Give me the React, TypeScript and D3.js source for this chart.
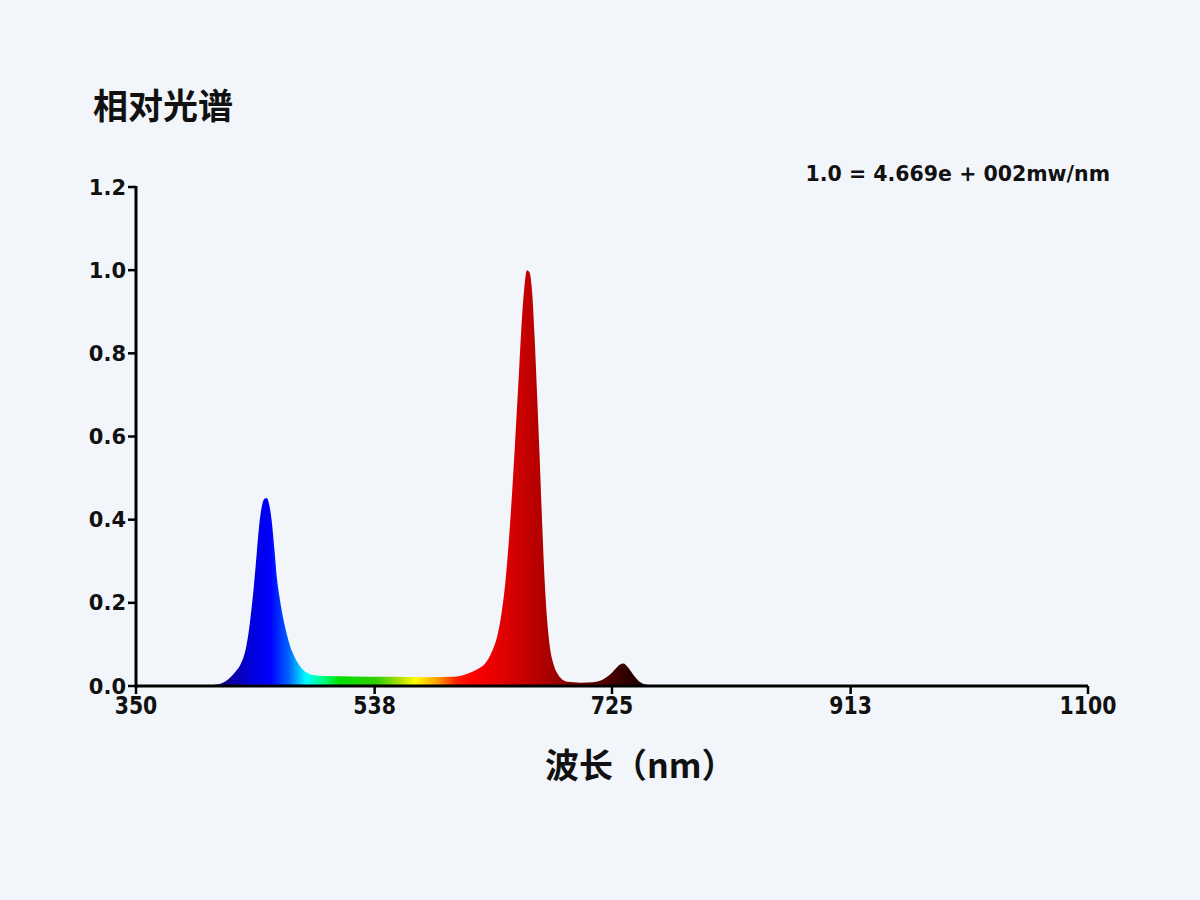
import React from "react";
import * as d3 from "d3";

const title = "相对光谱";
const xTitle = "波长（nm）";
const note = "1.0 = 4.669e + 002mw/nm";
const xTicks = [350, 538, 725, 913, 1100];
const yTicks = [0, 0.2, 0.4, 0.6, 0.8, 1.0, 1.2];

const wavelengths = [
  350, 400, 405, 410, 415, 420, 424, 428, 432, 435, 437, 439, 441, 443, 445, 447, 449, 451, 453, 455,
  457, 459, 461, 463, 465, 467, 469, 471, 474, 477, 481, 485, 490, 500, 520, 550, 580, 600, 605, 610,
  615, 620, 625, 630, 635, 638, 641, 644, 647, 650, 652, 654, 656, 658, 660, 662, 664, 666, 668,
  670, 672, 674, 676, 679, 682, 685, 690, 700, 710, 715, 720, 725, 728, 731, 734, 737, 740, 743,
  746, 750, 755, 760, 1100,
];
const intensity = [
  0, 0, 0.001, 0.002, 0.004, 0.01, 0.02, 0.033, 0.05, 0.072, 0.097, 0.135, 0.185, 0.245, 0.315, 0.385, 0.43, 0.45, 0.452, 0.435,
  0.395, 0.33, 0.26, 0.215, 0.178, 0.148, 0.122, 0.1, 0.076, 0.058, 0.041, 0.031, 0.026, 0.024, 0.023, 0.022, 0.021, 0.022, 0.024, 0.028,
  0.034, 0.042, 0.054, 0.08, 0.125, 0.175, 0.25, 0.36, 0.5, 0.66, 0.77, 0.88, 0.96, 1.0, 0.995, 0.95, 0.84, 0.7, 0.55,
  0.39, 0.25, 0.155, 0.095, 0.052, 0.03, 0.018, 0.01, 0.008, 0.009, 0.012, 0.02, 0.032, 0.042, 0.051, 0.054, 0.047, 0.035, 0.022,
  0.012, 0.005, 0.002, 0, 0,
];

const colorStops: [number, string][] = [
  [390, "#000050"],
  [420, "#10008c"],
  [440, "#0000d8"],
  [456, "#0000ff"],
  [470, "#0060ff"],
  [484, "#00ffff"],
  [498, "#00ff80"],
  [510, "#00e000"],
  [540, "#30d000"],
  [558, "#b0e000"],
  [570, "#ffff00"],
  [588, "#ff9a00"],
  [602, "#ff2000"],
  [615, "#ff0000"],
  [640, "#e00000"],
  [660, "#c00000"],
  [680, "#a00000"],
  [700, "#700000"],
  [720, "#500000"],
  [740, "#2a0000"],
  [760, "#1a0000"],
];

const W = 1200;
const H = 900;
const left = 136;
const right = 1088;
const top = 187;
const bottom = 686;

export default function App() {
  const x = d3.scaleLinear().domain([350, 1100]).range([left, right]);
  const y = d3.scaleLinear().domain([0, 1.2]).range([bottom, top]);
  const data = wavelengths.map((w, i) => ({ w, v: intensity[i] }));
  const area = d3
    .area<{ w: number; v: number }>()
    .x((d) => x(d.w))
    .y0(y(0))
    .y1((d) => y(d.v))
    .curve(d3.curveMonotoneX);

  return (
    <svg
      width={W}
      height={H}
      style={{ display: "block", position: "absolute", left: 0, top: 0, background: "#f2f6fa" }}
    >
      <rect x={0} y={0} width={W} height={H} fill="#f2f6fa" />
      <defs>
        <linearGradient id="spec" gradientUnits="userSpaceOnUse" x1={x(350)} x2={x(1100)} y1={0} y2={0}>
          {colorStops.map(([w, c], i) => (
            <stop key={i} offset={(w - 350) / 750} stopColor={c} />
          ))}
        </linearGradient>
      </defs>
      <text
        x={93}
        y={119}
        fontFamily="'Noto Sans CJK SC', sans-serif"
        fontWeight={700}
        fontSize={35}
        fill="#111"
      >
        {title}
      </text>
      <text
        x={1110}
        y={181}
        textAnchor="end"
        fontFamily="'DejaVu Sans', sans-serif"
        fontWeight={700}
        fontSize={20.5}
        fill="#111"
      >
        {note}
      </text>
      <path d={area(data) || ""} fill="url(#spec)" />
      <line x1={x(350)} x2={x(1100)} y1={y(0)} y2={y(0)} stroke="#000" strokeWidth={3} />
      <line x1={x(350)} x2={x(350)} y1={y(1.2) - 1} y2={y(0) + 1.5} stroke="#000" strokeWidth={3} />
      {yTicks.map((t) => (
        <g key={t}>
          <line x1={x(350) - 8} x2={x(350)} y1={y(t)} y2={y(t)} stroke="#000" strokeWidth={2.5} />
          <text
            x={x(350) - 10}
            y={y(t) + 7.5}
            textAnchor="end"
            fontFamily="'DejaVu Sans', sans-serif"
            fontWeight={700}
            fontSize={21}
            fill="#111"
          >
            {t.toFixed(1)}
          </text>
        </g>
      ))}
      {xTicks.map((t) => (
        <g key={t}>
          <line x1={x(t)} x2={x(t)} y1={y(0)} y2={y(0) + 8} stroke="#000" strokeWidth={2.5} />
          <text
            transform={`translate(${x(t)},${y(0) + 28}) scale(0.85,1)`}
            textAnchor="middle"
            fontFamily="'DejaVu Sans', sans-serif"
            fontWeight={700}
            fontSize={24}
            fill="#111"
          >
            {t}
          </text>
        </g>
      ))}
      <text
        x={545}
        y={778}
        fontFamily="'Noto Sans CJK SC', sans-serif"
        fontWeight={700}
        fontSize={34}
        fill="#111"
      >
        {xTitle}
      </text>
    </svg>
  );
}
